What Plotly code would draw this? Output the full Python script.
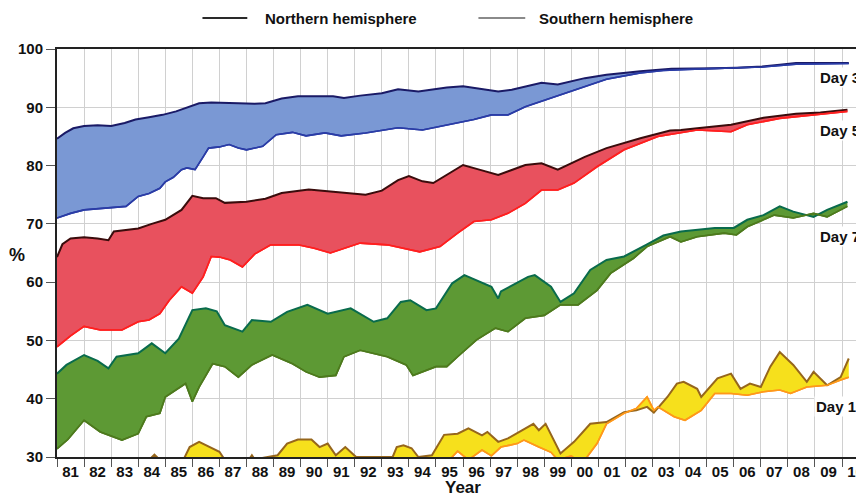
import plotly.graph_objects as go

# ---------------- data (years, % values) ----------------
d3_nh_x = [1981.0, 1981.3, 1981.6, 1982.0, 1982.5, 1983.0, 1983.5, 1983.9, 1984.4, 1984.9, 1985.4, 1985.76,
           1986.25, 1986.7, 1987.2, 1987.7, 1988.3, 1988.7, 1989.3, 1989.9, 1990.5, 1991.2, 1991.6, 1992.2,
           1993.0, 1993.6, 1994.35, 1994.8, 1995.4, 1996.0, 1996.6, 1997.3, 1997.8, 1998.9, 1999.5, 2000.5,
           2001.3, 2002.55, 2003.7, 2004.3, 2005.3, 2006.1, 2007.05, 2007.7, 2008.3, 2009.55, 2010.25]
d3_nh_y = [84.6, 85.6, 86.4, 86.8, 86.9, 86.8, 87.3, 87.9, 88.3, 88.7, 89.3, 89.9,
           90.7, 90.8, 90.8, 90.7, 90.6, 90.7, 91.5, 91.9, 91.9, 91.9, 91.6, 92.0,
           92.4, 93.1, 92.7, 93.0, 93.4, 93.6, 93.2, 92.7, 93.0, 94.2, 93.9, 95.0,
           95.6, 96.2, 96.6, 96.6, 96.7, 96.8, 97.0, 97.3, 97.6, 97.6, 97.6]

d3_sh_x = [1981.0, 1981.5, 1982.0, 1982.5, 1982.94, 1983.55, 1984.0, 1984.4, 1984.8, 1985.0, 1985.3, 1985.6,
           1985.8, 1986.1, 1986.4, 1986.6, 1987.0, 1987.36, 1987.7, 1988.0, 1988.6, 1989.1, 1989.7, 1990.2,
           1990.9, 1991.5, 1992.4, 1993.0, 1993.6, 1994.5, 1995.0, 1995.8, 1996.4, 1997.05, 1997.66, 1998.3,
           1999.25, 2000.1, 2001.3, 2002.55, 2003.4, 2004.3, 2005.2, 2006.1, 2007.05, 2008.3, 2009.3, 2010.25]
d3_sh_y = [71.0, 71.8, 72.4, 72.6, 72.8, 73.0, 74.7, 75.2, 76.1, 77.2, 78.0, 79.3,
           79.6, 79.3, 81.5, 83.0, 83.2, 83.6, 83.0, 82.7, 83.3, 85.3, 85.7, 85.1,
           85.6, 85.1, 85.6, 86.0, 86.5, 86.1, 86.6, 87.3, 87.9, 88.7, 88.7, 90.1,
           91.6, 93.0, 94.8, 95.9, 96.3, 96.5, 96.6, 96.7, 96.9, 97.4, 97.5, 97.5]

d5_nh_x = [1981.0, 1981.2, 1981.5, 1982.0, 1982.5, 1982.9, 1983.1, 1983.5, 1984.0, 1984.5, 1985.0, 1985.6,
           1986.0, 1986.4, 1986.87, 1987.2, 1988.0, 1988.7, 1989.3, 1989.8, 1990.3, 1991.2, 1991.8, 1992.4,
           1993.0, 1993.6, 1994.0, 1994.5, 1994.9, 1995.6, 1996.0, 1996.6, 1997.3, 1998.3, 1998.9, 1999.5,
           2000.5, 2001.3, 2002.55, 2003.65, 2004.05, 2004.65, 2005.9, 2007.1, 2008.3, 2009.2, 2010.2]
d5_nh_y = [64.3, 66.5, 67.5, 67.7, 67.5, 67.2, 68.7, 68.9, 69.2, 70.0, 70.7, 72.4,
           74.8, 74.4, 74.4, 73.6, 73.8, 74.3, 75.3, 75.6, 75.9, 75.5, 75.3, 75.0,
           75.7, 77.5, 78.2, 77.3, 77.0, 79.0, 80.1, 79.3, 78.4, 80.1, 80.4, 79.3,
           81.5, 83.0, 84.7, 86.0, 86.1, 86.4, 87.0, 88.2, 88.9, 89.1, 89.6]

d5_sh_x = [1981.0, 1981.5, 1982.0, 1982.6, 1983.4, 1984.0, 1984.4, 1984.8, 1985.15, 1985.6, 1986.0, 1986.4,
           1986.7, 1987.0, 1987.4, 1987.85, 1988.3, 1988.9, 1989.9, 1990.5, 1991.1, 1992.2, 1993.2, 1994.4,
           1995.15, 1995.6, 1995.8, 1996.4, 1997.05, 1997.66, 1998.3, 1998.9, 1999.5, 2000.1, 2000.95, 2001.95,
           2003.2, 2004.65, 2005.9, 2006.5, 2007.7, 2008.95, 2010.2]
d5_sh_y = [48.9, 50.8, 52.4, 51.8, 51.8, 53.2, 53.5, 54.6, 56.9, 59.2, 58.1, 60.9,
           64.4, 64.3, 63.8, 62.6, 64.8, 66.4, 66.4, 65.8, 65.0, 66.7, 66.4, 65.2,
           66.1, 67.8, 68.4, 70.4, 70.7, 71.8, 73.5, 75.8, 75.8, 77.0, 79.8, 82.7,
           85.0, 86.1, 85.8, 87.0, 88.1, 88.7, 89.3]

d7_nh_x = [1981.0, 1981.35, 1982.0, 1982.5, 1982.9, 1983.2, 1984.0, 1984.5, 1985.0, 1985.5, 1986.0, 1986.5,
           1986.9, 1987.2, 1987.85, 1988.2, 1988.9, 1989.5, 1990.25, 1991.0, 1991.85, 1992.7, 1993.2, 1993.7,
           1994.05, 1994.65, 1995.0, 1995.6, 1996.05, 1997.05, 1997.3, 1997.4, 1998.4, 1998.65, 1999.25, 1999.6,
           2000.1, 2000.7, 2001.3, 2001.95, 2002.8, 2003.4, 2004.05, 2004.65, 2005.3, 2006.0, 2006.5, 2007.1,
           2007.7, 2008.2, 2008.95, 2009.45, 2010.2]
d7_nh_y = [44.3, 45.8, 47.5, 46.5, 45.2, 47.2, 47.8, 49.5, 47.8, 50.3, 55.2, 55.5,
           55.0, 52.6, 51.5, 53.5, 53.2, 54.9, 56.1, 54.6, 55.5, 53.2, 53.8, 56.6,
           56.9, 55.2, 55.5, 59.8, 61.2, 59.2, 57.2, 58.4, 60.9, 61.2, 59.2, 56.6,
           58.1, 62.1, 63.8, 64.4, 66.5, 68.0, 68.7, 69.0, 69.3, 69.3, 70.7, 71.5,
           73.0, 72.1, 71.2, 72.4, 73.8]

d7_sh_x = [1981.0, 1981.4, 1982.0, 1982.6, 1983.4, 1984.0, 1984.3, 1984.8, 1985.0, 1985.75, 1986.0, 1986.25,
           1986.75, 1987.2, 1987.7, 1988.2, 1988.95, 1989.7, 1990.2, 1990.7, 1991.3, 1991.6, 1992.2, 1993.2,
           1993.9, 1994.15, 1995.0, 1995.4, 1995.8, 1996.5, 1997.2, 1997.66, 1998.3, 1999.0, 1999.6, 2000.25,
           2000.95, 2001.45, 2002.3, 2002.8, 2003.65, 2004.05, 2004.65, 2005.65, 2006.1, 2006.5, 2007.5, 2008.2,
           2008.95, 2009.45, 2010.2]
d7_sh_y = [31.4, 33.0, 36.3, 34.3, 32.9, 34.0, 36.9, 37.5, 40.3, 42.6, 39.5, 42.0,
           46.0, 45.5, 43.7, 45.8, 47.5, 46.0, 44.6, 43.7, 44.0, 47.2, 48.3, 47.2,
           45.8, 44.0, 45.5, 45.5, 47.2, 50.1, 52.1, 51.5, 53.8, 54.3, 56.1, 56.1,
           58.6, 61.5, 64.1, 66.1, 67.8, 66.9, 67.8, 68.4, 68.1, 69.5, 71.5, 71.0,
           71.8, 71.2, 73.0]

d10_nh_x = [1981.0, 1983.0, 1984.4, 1984.6, 1984.8, 1985.7, 1985.9, 1986.25, 1986.75, 1987.0, 1987.2, 1988.1,
            1988.2, 1988.3, 1989.15, 1989.5, 1989.9, 1990.4, 1990.7, 1991.0, 1991.3, 1991.65, 1992.05, 1993.4,
            1993.55, 1993.8, 1994.1, 1994.35, 1994.85, 1995.3, 1995.8, 1996.2, 1996.7, 1996.9, 1997.3, 1997.66,
            1998.6, 1998.8, 1999.05, 1999.6, 2000.1, 2000.7, 2001.3, 2001.95, 2002.4, 2002.8, 2003.05, 2003.55,
            2003.9, 2004.15, 2004.65, 2004.8, 2005.4, 2005.9, 2006.25, 2006.6, 2007.0, 2007.35, 2007.7, 2008.2,
            2008.7, 2008.95, 2009.45, 2009.95, 2010.25]
d10_nh_y = [26.0, 28.0, 29.5, 30.4, 29.5, 29.8, 31.7, 32.6, 31.4, 30.9, 29.5, 29.6,
            30.3, 29.6, 30.3, 32.3, 33.0, 33.0, 31.7, 32.3, 30.3, 31.7, 30.0, 30.0,
            31.7, 32.0, 31.5, 30.0, 30.3, 33.8, 34.0, 34.9, 33.7, 34.3, 32.6, 33.2,
            35.7, 34.6, 35.7, 30.6, 32.6, 35.7, 36.0, 37.7, 38.0, 38.6, 37.6, 40.3,
            42.6, 42.9, 41.7, 40.3, 43.5, 44.3, 41.7, 42.6, 42.0, 45.5, 48.0, 45.8,
            42.9, 44.6, 42.3, 43.7, 46.9]

d10_sh_x = [1981.0, 1994.8, 1995.5, 1995.8, 1996.2, 1996.7, 1997.05, 1997.4, 1998.0, 1998.25, 1998.8, 1999.25,
            1999.5, 2000.0, 2000.3, 2000.5, 2000.95, 2001.3, 2001.95, 2002.4, 2002.8, 2003.05, 2003.2, 2003.8,
            2004.2, 2004.8, 2005.3, 2005.9, 2006.5, 2007.1, 2007.7, 2008.1, 2008.7, 2009.45, 2009.95, 2010.25]
d10_sh_y = [24.0, 28.0, 29.5, 31.0, 29.5, 31.2, 30.2, 31.7, 32.3, 32.9, 31.7, 30.8,
            29.5, 30.2, 29.0, 29.5, 32.3, 35.7, 37.5, 38.3, 40.3, 38.0, 38.6, 36.9,
            36.3, 38.0, 40.9, 40.9, 40.6, 41.2, 41.5, 40.9, 42.0, 42.3, 43.2, 43.7]

year_labels = ["81", "82", "83", "84", "85", "86", "87", "88", "89", "90", "91", "92", "93", "94", "95",
               "96", "97", "98", "99", "00", "01", "02", "03", "04", "05", "06", "07", "08", "09", "10"]
first_year = 1981

bands = [
    # label, NH x, NH y, SH x, SH y, fill, NH line colour, SH line colour, label x, label y
    ("Day 3", d3_nh_x, d3_nh_y, d3_sh_x, d3_sh_y, "#7a98d4", "#1a1a66", "#2a3ca6", 2009.1, 95.1),
    ("Day 5", d5_nh_x, d5_nh_y, d5_sh_x, d5_sh_y, "#e8515e", "#3a0c0c", "#ff1f1f", 2009.1, 86.0),
    ("Day 7", d7_nh_x, d7_nh_y, d7_sh_x, d7_sh_y, "#5d9934", "#096b4c", "#4d7a1d", 2009.1, 67.9),
    ("Day 10", d10_nh_x, d10_nh_y, d10_sh_x, d10_sh_y, "#f6e01c", "#96661c", "#ff981a", 2008.95, 38.7),
]

FONT = "Liberation Sans, Arial, sans-serif"
OFF = 8  # the page body adds an 8 px margin around the figure

fig = go.Figure()
for name, nx, ny, sx, sy, fillc, nhc, shc, lx, ly in bands:
    fig.add_trace(go.Scatter(x=sx, y=sy, mode="lines", line=dict(color=shc, width=1.6),
                             showlegend=False, hoverinfo="skip"))
    fig.add_trace(go.Scatter(x=nx, y=ny, mode="lines", line=dict(color=nhc, width=2),
                             fill="tonexty", fillcolor=fillc, showlegend=False, hoverinfo="skip"))
    fig.add_trace(go.Scatter(x=sx, y=sy, mode="lines", line=dict(color=shc, width=1.6),
                             showlegend=False, hoverinfo="skip"))
    fig.add_annotation(x=lx, y=ly, xref="x", yref="y", text=name, showarrow=False,
                       xanchor="left", yanchor="middle", bgcolor="white",
                       font=dict(family=FONT, size=15, color="#111", weight="bold"))

tickvals = [first_year + i + 0.5 for i in range(len(year_labels))]

fig.update_layout(
    width=864 - OFF, height=498 - OFF,
    margin=dict(l=57 - OFF, r=0, t=49 - OFF, b=41),
    paper_bgcolor="white", plot_bgcolor="white",
    font=dict(family=FONT, size=15, color="#111", weight="bold"),
    xaxis=dict(range=[1981, 1981 + 807 / 27.17], tickvals=tickvals, ticktext=year_labels,
               ticks="", showgrid=False, zeroline=False, ticklabeloverflow="allow",
               showline=True, linecolor="#222", linewidth=2, mirror=True,
               tickfont=dict(family=FONT, size=15, color="#111", weight="bold"),
               minor=dict(tick0=1981, dtick=1, showgrid=True, gridcolor="#d0d0d0", gridwidth=1,
                          ticks="outside", ticklen=8, tickcolor="#555", tickwidth=1)),
    yaxis=dict(range=[30, 100], tickvals=[30, 40, 50, 60, 70, 80, 90, 100],
               ticks="outside", ticklen=9, tickcolor="#555", showgrid=True, gridcolor="#d0d0d0",
               gridwidth=1, zeroline=False, showline=True, linecolor="#222", linewidth=2,
               tickfont=dict(family=FONT, size=15, color="#111", weight="bold")),
)

# axis titles
fig.add_annotation(x=(465 - 57) / 807, y=(457 - 487) / 408, xref="paper", yref="paper", text="Year",
                   showarrow=False, xanchor="center", yanchor="middle",
                   font=dict(family=FONT, size=17, color="#111", weight="bold"))
fig.add_annotation(x=(17 - 57) / 807, y=(457 - 255) / 408, xref="paper", yref="paper", text="%",
                   showarrow=False, xanchor="center", yanchor="middle",
                   font=dict(family=FONT, size=18, color="#111", weight="bold"))

# legend
legend_items = [("Northern hemisphere", "#2a2a2a", 203, 248, 264),
                ("Southern hemisphere", "#8a8a8a", 480, 527, 539)]
for text, col, x0, x1, tx in legend_items:
    ly = (457 - 18) / 408
    fig.add_shape(type="line", xref="paper", yref="paper", x0=(x0 - 57) / 807, x1=(x1 - 57) / 807,
                  y0=ly, y1=ly, line=dict(color=col, width=2))
    fig.add_annotation(x=(tx - 57) / 807, y=ly, xref="paper", yref="paper", text=text, showarrow=False,
                       xanchor="left", yanchor="middle",
                       font=dict(family=FONT, size=15, color="#111", weight="bold"))

fig.write_html("out.html")
